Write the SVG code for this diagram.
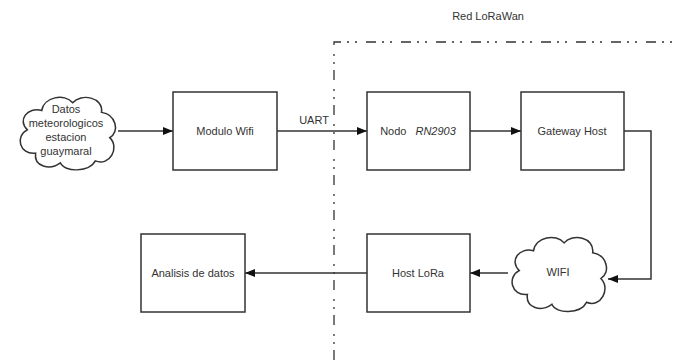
<svg xmlns="http://www.w3.org/2000/svg" width="676" height="360" viewBox="0 0 676 360">
<defs>
<style>
.box{fill:#fff;stroke:#333;stroke-width:1.5}
.cloud{fill:#fff;stroke:#333;stroke-width:1.5}
.t{font-family:"Liberation Sans",Arial,sans-serif;font-size:11px;fill:#333;text-anchor:middle}
.c{fill:none;stroke:#333;stroke-width:1.5}
.dash{fill:none;stroke:#333;stroke-width:1.3;stroke-dasharray:10 6 2 6 2 9}
</style>
<marker id="arr" viewBox="0 0 10 8" refX="10" refY="4" markerWidth="10" markerHeight="8" markerUnits="userSpaceOnUse" orient="auto">
<path d="M0 0 L10 4 L0 8 Z" fill="#111"/>
</marker>
<path id="cloudp" d="M 20 62 C 4 64 0 44 12 38 C 2 28 12 14 26 18 C 28 4 48 0 56 10 C 64 0 86 4 84 20 C 98 22 102 40 92 46 C 102 56 92 76 78 70 C 72 82 48 82 44 72 C 34 80 18 76 20 62 Z"/>
</defs>
<rect width="676" height="360" fill="#fff"/>
<g id="boundary">
<path class="dash" d="M334 360 L334 42 L676 42"/>
<text class="t" x="488" y="20">Red LoRaWan</text>
</g>
<g id="connectors">
<path class="c" d="M118 131 L173 131" marker-end="url(#arr)"/>
<path class="c" d="M277 131 L367 131" marker-end="url(#arr)"/>
<text class="t" x="314" y="124">UART</text>
<path class="c" d="M470 131 L521 131" marker-end="url(#arr)"/>
<path class="c" d="M624 131 L651 131 L651 279 L608 279" marker-end="url(#arr)"/>
<path class="c" d="M508 273 L470 273" marker-end="url(#arr)"/>
<path class="c" d="M367 273 L245 273" marker-end="url(#arr)"/>
</g>
<g id="datos">
<use href="#cloudp" class="cloud" transform="translate(15 93) scale(1.03 0.97)"/>
<text class="t" x="66" y="113">Datos</text>
<text class="t" x="66" y="127">meteorologicos</text>
<text class="t" x="66" y="141">estacion</text>
<text class="t" x="66" y="155">guaymaral</text>
</g>
<g id="modulo">
<rect class="box" x="173" y="92" width="104" height="78"/>
<text class="t" x="225" y="135">Modulo Wifi</text>
</g>
<g id="nodo">
<rect class="box" x="367" y="92" width="103" height="78"/>
<text class="t" x="418" y="135">Nodo<tspan dx="9" font-style="italic">RN2903</tspan></text>
</g>
<g id="gateway">
<rect class="box" x="521" y="92" width="103" height="78"/>
<text class="t" x="572" y="135">Gateway Host</text>
</g>
<g id="wifi">
<use href="#cloudp" class="cloud" transform="translate(507 233) scale(1.02 0.99)"/>
<text class="t" x="558" y="276">WIFI</text>
</g>
<g id="hostlora">
<rect class="box" x="367" y="234" width="103" height="78"/>
<text class="t" x="418" y="277">Host LoRa</text>
</g>
<g id="analisis">
<rect class="box" x="141" y="234" width="104" height="78"/>
<text class="t" x="193" y="277">Analisis de datos</text>
</g>
</svg>
